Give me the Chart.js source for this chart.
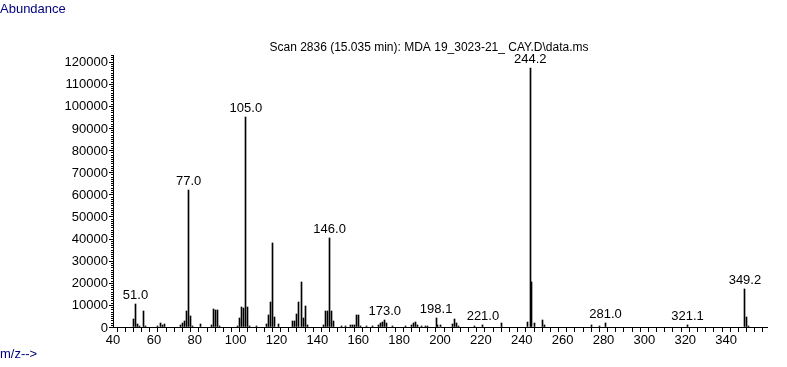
<!DOCTYPE html>
<html>
<head>
<meta charset="utf-8">
<script src="https://cdn.jsdelivr.net/npm/chart.js@4"></script>
<style>
  html, body { margin: 0; padding: 0; background: #fff; }
  canvas { display: block; }
</style>
</head>
<body>
<canvas id="spectrum" width="787" height="367"></canvas>
<script>
// m/z and abundance
const mz = [50, 51, 52, 53, 55, 56, 62, 63, 64, 65, 73, 74, 75, 76, 77, 78, 79, 83,
    88, 89, 90, 91, 92, 101, 102, 103, 104, 105, 106, 107, 110, 115, 116, 117, 118, 119, 121,
    128, 129, 130, 131, 132, 133, 134, 135, 143, 144, 145, 146, 147, 148, 152, 154,
    156, 157, 158, 159, 160, 161, 164, 167, 170, 171, 172, 173, 174, 177, 183,
    186, 187, 188, 189, 191, 193, 194, 198.1, 199, 200, 206, 207, 208, 209, 217, 221,
    230, 243, 244.2, 245, 246, 250, 251, 274, 278, 281, 321.1, 349.2, 350, 351];
const abundance = [3700, 10300, 1400, 400, 7300, 600, 500, 2000, 1000, 1500, 800, 1600, 2800, 7300, 62000, 5100, 500, 1200,
    700, 8300, 7600, 7600, 500, 600, 4000, 9100, 8800, 95000, 9200, 500, 500, 1200, 5500, 11500, 38200, 4300, 1300,
    2500, 2500, 6000, 11100, 20500, 4200, 9500, 1000, 900, 7300, 7300, 40200, 7400, 2500, 450, 450,
    1000, 1000, 1000, 5300, 5600, 500, 500, 500, 1100, 1600, 2300, 3200, 1600, 500, 500,
    800, 1600, 2400, 800, 600, 600, 500, 4000, 900, 700, 1500, 3400, 1700, 600, 500, 700,
    1600, 2200, 117000, 20500, 2000, 3100, 900, 800, 600, 1900, 800, 17000, 4400, 600];
const labeledPeaks = [51, 77, 105, 146, 173, 198.1, 221, 244.2, 281, 321.1, 349.2];
const yTicks = [0, 10000, 20000, 30000, 40000, 50000, 60000, 70000, 80000, 90000, 100000, 110000, 120000];

const xMin = 40, xMax = 360, xStep = 4, xLabelStep = 20;
const yMax = 123000, yMinorStep = 1000;

const titleText = 'Scan 2836 (15.035 min): MDA 19_3023-21_ CAY.D\\data.ms';
const fontFamily = '"Liberation Sans", Arial, sans-serif';

const extras = {
    id: 'extras',
    beforeDatasetsDraw(chart) {
        // snap 1px sticks onto whole pixels
        chart.getDatasetMeta(0).data.forEach(el => {
            el.x = Math.round(el.x - 0.5) + 0.5;
            el.y = Math.round(el.y);
        });
    },
    afterDraw(chart) {
        const ctx = chart.ctx;
        const x = chart.scales.x, y = chart.scales.y;
        ctx.save();
        ctx.strokeStyle = '#000';
        ctx.lineWidth = 1;
        ctx.beginPath();
        for (let v = 0; v <= yMax; v += yMinorStep) {
            const py = Math.round(y.getPixelForValue(v)) + 0.5;
            ctx.moveTo(x.left - 2, py);
            ctx.lineTo(x.left, py);
        }
        yTicks.forEach(v => {
            const py = Math.round(y.getPixelForValue(v)) + 0.5;
            ctx.moveTo(x.left - 4, py);
            ctx.lineTo(x.left, py);
        });
        ctx.stroke();

        ctx.fillStyle = '#000';
        ctx.font = '13px ' + fontFamily;
        ctx.textAlign = 'right';
        ctx.textBaseline = 'middle';
        yTicks.forEach(v => {
            ctx.fillText(String(v), x.left - 5, y.getPixelForValue(v) + 1);
        });

        ctx.textAlign = 'center';
        ctx.textBaseline = 'alphabetic';
        labeledPeaks.forEach(p => {
            const i = mz.indexOf(p);
            const px = x.getPixelForValue(p);
            const py = y.getPixelForValue(abundance[i]);
            ctx.fillText(p.toFixed(1), px, py - 5);
        });
        ctx.font = '12px ' + fontFamily;
        ctx.fillText(titleText, 429, 51);

        ctx.font = '13px ' + fontFamily;
        ctx.fillStyle = '#000080';
        ctx.textAlign = 'left';
        ctx.fillText('Abundance', 0, 13);
        ctx.fillText('m/z-->', 0, 358);
        ctx.restore();
    }
};

new Chart(document.getElementById('spectrum').getContext('2d'), {
    type: 'bar',
    data: {
        datasets: [{
            data: mz.map((m, i) => ({ x: m, y: abundance[i] })),
            backgroundColor: '#000',
            borderWidth: 0,
            barThickness: 1,
            grouped: false
        }]
    },
    options: {
        responsive: false,
        animation: false,
        events: [],
        layout: { padding: { left: 0, top: 55, right: 20, bottom: 0 } },
        plugins: {
            legend: { display: false },
            title: { display: false },
            tooltip: { enabled: false }
        },
        scales: {
            x: {
                type: 'linear',
                min: xMin,
                max: xMax,
                offset: false,
                afterFit: s => { s.height = 40; },
                border: { color: '#000', width: 1 },
                grid: { drawOnChartArea: false, color: '#000', tickLength: 5 },
                ticks: {
                    stepSize: xStep,
                    autoSkip: false,
                    maxRotation: 0,
                    minRotation: 0,
                    padding: 1,
                    color: '#000',
                    font: { family: fontFamily, size: 13 },
                    callback: v => (v % xLabelStep === 0 && v < xMax) ? String(v) : ''
                }
            },
            y: {
                min: 0,
                max: yMax,
                afterFit: s => { s.width = 113; },
                border: { color: '#000', width: 1 },
                grid: { drawOnChartArea: false, drawTicks: false },
                ticks: { display: false }
            }
        }
    },
    plugins: [extras]
});
</script>
</body>
</html>
